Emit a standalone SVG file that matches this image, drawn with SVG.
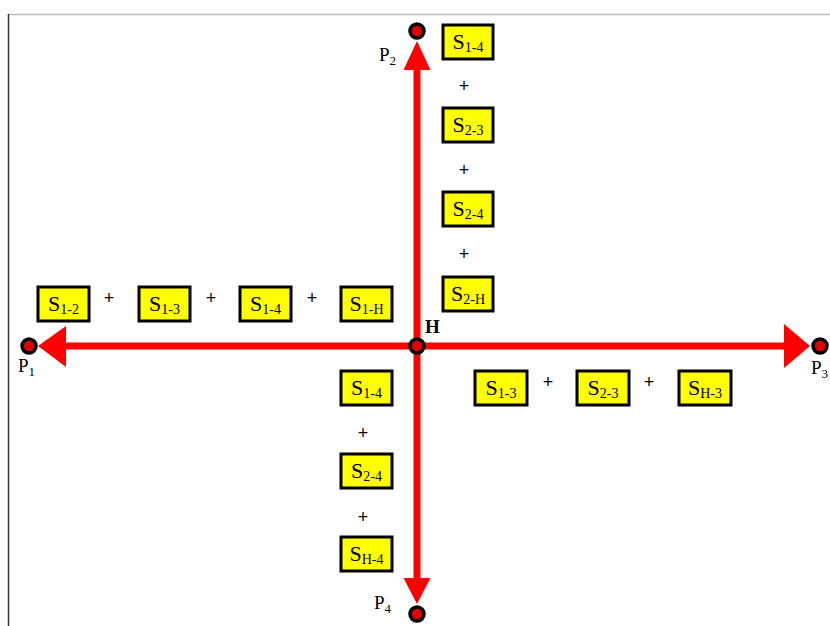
<svg xmlns="http://www.w3.org/2000/svg" width="830" height="626" viewBox="0 0 830 626">
<style>
.box rect{fill:#ffff00;stroke:#000;stroke-width:3}
.box text{font-family:"Liberation Serif",serif;font-size:22px;fill:#000;text-anchor:middle}
.sub{font-size:14px}
.plus{font-family:"Liberation Sans",sans-serif;font-size:18px;fill:#000;text-anchor:middle}
.lbl{font-family:"Liberation Serif",serif;font-size:19px;fill:#000}
.pt{fill:#e00000;stroke:#000;stroke-width:3.5}
.axis{stroke:#ff0000;stroke-width:7;fill:none}
.head{fill:#ff0000}
</style>
<rect width="830" height="626" fill="#fff"/>
<line x1="8" y1="14.5" x2="830" y2="14.5" stroke="#bbb" stroke-width="1.5"/>
<line x1="8.5" y1="14" x2="8.5" y2="626" stroke="#333" stroke-width="1.5"/>
<g id="connectors">
<line class="axis" x1="417" y1="66" x2="417" y2="582"/>
<line class="axis" x1="62" y1="346" x2="790" y2="346"/>
<polygon class="head" points="417,41 403.5,70 430.5,70"/>
<polygon class="head" points="417,604 403.5,578 430.5,578"/>
<polygon class="head" points="38,346 66,326 66,367"/>
<polygon class="head" points="810,346 784,324 784,368"/>
</g>
<g id="P2"><circle class="pt" cx="417" cy="31" r="7"/><text class="lbl" x="379" y="61">P<tspan font-size="13" dy="4">2</tspan></text></g>
<g id="P1"><circle class="pt" cx="29" cy="346" r="7"/><text class="lbl" x="18" y="372">P<tspan font-size="13" dy="4">1</tspan></text></g>
<g id="P3"><circle class="pt" cx="820" cy="346" r="7"/><text class="lbl" x="811" y="374">P<tspan font-size="13" dy="4">3</tspan></text></g>
<g id="P4"><circle class="pt" cx="417" cy="614" r="7"/><text class="lbl" x="374" y="609">P<tspan font-size="13" dy="4">4</tspan></text></g>
<g id="H"><circle class="pt" cx="417" cy="346" r="7"/><text class="lbl" x="425" y="333" font-weight="bold">H</text></g>

<g id="top-S1-4" class="box"><rect x="443" y="25" width="50" height="34"/><text x="468" y="49">S<tspan class="sub" dy="3">1-4</tspan></text></g>
<text class="plus" x="464" y="92">+</text>
<g id="top-S2-3" class="box"><rect x="443" y="108" width="50" height="34"/><text x="468" y="132">S<tspan class="sub" dy="3">2-3</tspan></text></g>
<text class="plus" x="464" y="176">+</text>
<g id="top-S2-4" class="box"><rect x="443" y="192" width="50" height="34"/><text x="468" y="216">S<tspan class="sub" dy="3">2-4</tspan></text></g>
<text class="plus" x="464" y="260">+</text>
<g id="top-S2-H" class="box"><rect x="443" y="277" width="50" height="34"/><text x="468" y="301">S<tspan class="sub" dy="3">2-H</tspan></text></g>

<g id="left-S1-2" class="box"><rect x="38" y="287" width="51" height="34"/><text x="63.5" y="311">S<tspan class="sub" dy="3">1-2</tspan></text></g>
<text class="plus" x="109" y="304">+</text>
<g id="left-S1-3" class="box"><rect x="139" y="287" width="51" height="34"/><text x="164.5" y="311">S<tspan class="sub" dy="3">1-3</tspan></text></g>
<text class="plus" x="211" y="304">+</text>
<g id="left-S1-4" class="box"><rect x="240" y="287" width="51" height="34"/><text x="265.5" y="311">S<tspan class="sub" dy="3">1-4</tspan></text></g>
<text class="plus" x="312" y="304">+</text>
<g id="left-S1-H" class="box"><rect x="341" y="287" width="51" height="34"/><text x="366.5" y="311">S<tspan class="sub" dy="3">1-H</tspan></text></g>

<g id="bottom-S1-4" class="box"><rect x="341" y="371" width="51" height="34"/><text x="366.5" y="395">S<tspan class="sub" dy="3">1-4</tspan></text></g>
<text class="plus" x="363" y="439">+</text>
<g id="bottom-S2-4" class="box"><rect x="341" y="454" width="51" height="34"/><text x="366.5" y="478">S<tspan class="sub" dy="3">2-4</tspan></text></g>
<text class="plus" x="363" y="523">+</text>
<g id="bottom-S-H-4" class="box"><rect x="341" y="537" width="51" height="34"/><text x="366.5" y="561">S<tspan class="sub" dy="3">H-4</tspan></text></g>

<g id="right-S1-3" class="box"><rect x="475" y="371" width="52" height="34"/><text x="501" y="395">S<tspan class="sub" dy="3">1-3</tspan></text></g>
<text class="plus" x="548" y="388">+</text>
<g id="right-S2-3" class="box"><rect x="577" y="371" width="52" height="34"/><text x="603" y="395">S<tspan class="sub" dy="3">2-3</tspan></text></g>
<text class="plus" x="649" y="388">+</text>
<g id="right-S-H-3" class="box"><rect x="679" y="371" width="52" height="34"/><text x="705" y="395">S<tspan class="sub" dy="3">H-3</tspan></text></g>
</svg>
